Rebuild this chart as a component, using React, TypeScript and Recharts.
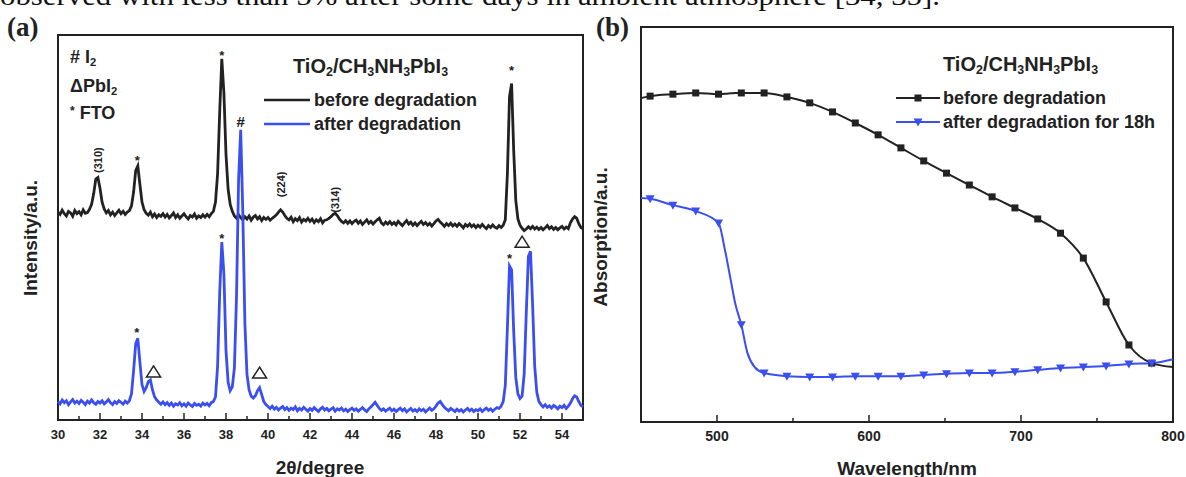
import React from 'react'
import { LineChart, Line, XAxis, YAxis, ReferenceArea, ReferenceDot } from 'recharts'

const SANS = '"Liberation Sans", Arial, sans-serif'
const SERIF = '"Liberation Serif", "Times New Roman", serif'
const INK = '#222'
const BLUE = '#3b4ef0'

// (a) XRD — 2θ from 30.0 to 55.0, one reading every 0.1°
const XRD_START = 30
const XRD_STEP = 0.1
const XRD_BEFORE = [
  540, 534, 545, 536, 530, 542, 538, 529, 544, 536,
  541, 533, 546, 537, 539, 547, 560, 588, 626, 630,
  602, 566, 548, 538, 544, 533, 540, 531, 538, 545,
  536, 542, 534, 540, 544, 556, 592, 648, 660, 612,
  566, 546, 537, 532, 540, 528, 535, 526, 533, 529,
  536, 527, 534, 525, 531, 538, 526, 533, 524, 530,
  536, 528, 522, 531, 527, 535, 524, 530, 526, 533,
  527, 534, 528, 536, 542, 566, 640, 800, 938, 850,
  690, 600, 560, 542, 530, 524, 533, 526, 520, 528,
  522, 530, 519, 527, 531, 522, 528, 518, 526, 521,
  526, 519, 524, 528, 533, 540, 546, 540, 531, 524,
  520, 527, 515, 523, 518, 526, 514, 521, 517, 524,
  516, 522, 513, 520, 515, 523, 512, 519, 520, 524,
  528, 534, 537, 531, 522, 516, 512, 518, 511, 517,
  510, 516, 519, 511, 517, 508, 514, 520, 511, 516,
  509, 515, 520, 524, 512, 507, 514, 509, 515, 508,
  513, 507, 516, 510, 505, 512, 518, 509, 514, 506,
  512, 505, 511, 516, 508, 513, 506, 511, 504, 510,
  517, 521, 514, 509, 503, 510, 505, 511, 504, 509,
  503, 510, 505, 499, 508, 503, 509, 502, 507, 500,
  506, 501, 508, 502, 497, 505, 500, 507, 501, 498,
  505, 500, 506, 520, 640, 840, 874, 700, 570, 522,
  506, 498, 492, 496, 502, 497, 503, 496, 501, 495,
  500, 494, 499, 505, 497, 502, 495, 500, 494, 499,
  503, 496, 501, 497, 512, 522, 528, 524, 510, 500,
  497,
]
const XRD_AFTER = [
  48, 42, 52, 45, 50, 40, 47, 53, 44, 49,
  43, 51, 46, 40, 49, 44, 52, 45, 41, 48,
  44, 50, 42, 47, 53, 45, 40, 48, 43, 50,
  46, 41, 49, 44, 50, 68, 128, 198, 212, 150,
  92, 74, 84, 100, 104, 78, 60, 52, 46, 41,
  47, 40, 45, 38, 44, 36, 42, 39, 45, 37,
  42, 36, 44, 39, 35, 43, 38, 41, 36, 44,
  39, 43, 37, 45, 48, 60, 140, 330, 462, 380,
  180, 98, 76, 86, 135, 320, 625, 754, 540, 250,
  118, 78, 62, 57, 63, 76, 84, 66, 48, 40,
  35, 30, 36, 28, 33, 26, 31, 35, 27, 32,
  25, 31, 27, 34, 24, 30, 26, 33, 28, 23,
  30, 25, 32, 27, 22, 29, 33, 26, 30, 24,
  28, 32, 23, 29, 26, 31, 24, 28, 22, 27,
  31, 25, 29, 23, 28, 32, 26, 22, 29, 34,
  40, 46, 38, 30, 25, 29, 23, 27, 31, 24,
  28, 22, 27, 31, 24, 29, 21, 26, 30, 23,
  27, 22, 29, 24, 28, 21, 26, 31, 25, 29,
  36, 44, 48, 40, 33, 28, 24, 30, 26, 22,
  28, 23, 27, 21, 26, 30, 24, 28, 22, 27,
  24, 29, 22, 27, 31, 25, 29, 23, 28, 32,
  30, 36, 48, 90, 240, 400, 390, 230, 110, 68,
  56, 62, 120, 280, 425, 438, 300, 140, 72, 48,
  40, 34, 40, 33, 37, 31, 38, 34, 29, 36,
  32, 38, 30, 36, 44, 55, 63, 60, 48, 38,
  34,
]
const XRD_TICKS = [30, 31, 32, 33, 34, 35, 36, 37, 38, 39, 40, 41, 42, 43, 44, 45, 46, 47, 48, 49, 50, 51, 52, 53, 54, 55]

// peak markers: [2θ, intensity, label]
const XRD_NOTES: [number, number, string][] = [
  [31.9, 675, '(310)'],
  [33.78, 683, '*'],
  [37.8, 956, '*'],
  [40.6, 612, '(224)'],
  [43.2, 572, '(314)'],
  [51.6, 917, '*'],
  [38.7, 774, '#'],
  [33.75, 236, '*'],
  [34.55, 125, '△'],
  [37.8, 480, '*'],
  [39.6, 122, '△'],
  [51.5, 428, '*'],
  [52.1, 462, '△'],
]

// (b) absorption
const ABS_NM = [450, 456, 471, 486, 501, 505, 509, 512, 516, 520, 525, 531, 546, 561, 576, 591, 606, 621, 636, 651, 666, 681, 696, 711, 726, 741, 756, 771, 786, 800]
const ABS_BEFORE = [0.82, 0.825, 0.83, 0.833, 0.83, 0.831, 0.832, 0.833, 0.833, 0.833, 0.833, 0.833, 0.823, 0.808, 0.785, 0.757, 0.727, 0.694, 0.661, 0.63, 0.6, 0.57, 0.542, 0.514, 0.478, 0.415, 0.304, 0.195, 0.149, 0.139]
const ABS_AFTER = [0.567, 0.565, 0.549, 0.534, 0.504, 0.44, 0.36, 0.3, 0.246, 0.175, 0.138, 0.124, 0.116, 0.114, 0.114, 0.116, 0.116, 0.116, 0.119, 0.122, 0.124, 0.124, 0.127, 0.132, 0.137, 0.139, 0.142, 0.147, 0.149, 0.159]
const ABS_MARKERS = [456, 471, 486, 501, 516, 531, 546, 561, 576, 591, 606, 621, 636, 651, 666, 681, 696, 711, 726, 741, 756, 771, 786]
const ABS_TICKS = [500, 550, 600, 650, 700, 750, 800]

const xrdData = XRD_BEFORE.map((v, i) => ({
  theta: Math.round((XRD_START + i * XRD_STEP) * 10) / 10,
  before: v,
  after: XRD_AFTER[i],
}))
const absData = ABS_NM.map((nm, i) => ({ nm, before: ABS_BEFORE[i], after: ABS_AFTER[i] }))

const Sub = ({ children }: any) => (
  <sub style={{ fontSize: '0.62em', verticalAlign: '-0.28em', lineHeight: 0 }}>{children}</sub>
)

function Txt({ x, y, size = 18, anchor = 'start', rotate = false, family = SANS, children }: any) {
  const transform = rotate
    ? 'translate(-50%,-50%) rotate(-90deg)'
    : `translate(${anchor === 'middle' ? '-50%' : '0'},-50%)`
  return (
    <div
      style={{
        position: 'absolute',
        left: x,
        top: y,
        transform,
        fontFamily: family,
        fontWeight: 'bold',
        fontSize: size,
        lineHeight: 1,
        whiteSpace: 'nowrap',
        color: INK,
      }}
    >
      {children}
    </div>
  )
}

const Formula = () => (
  <>
    TiO<Sub>2</Sub>/CH<Sub>3</Sub>NH<Sub>3</Sub>PbI<Sub>3</Sub>
  </>
)

function AxisTick({ x, y, payload, major, skip, size }: any) {
  const v = payload.value
  const isMajor = major(v)
  return (
    <g>
      {!skip(v) && (
        <line x1={x} x2={x} y1={y} y2={y - (isMajor ? 7 : 4)} stroke={INK} strokeWidth={1.5} />
      )}
      {isMajor && (
        <text x={x} y={y + 14} dy="0.35em" textAnchor="middle" fontFamily={SANS} fontWeight="bold" fontSize={size} fill={INK}>
          {v}
        </text>
      )}
    </g>
  )
}

function NoteMark({ cx, cy, label }: any) {
  if (label === '*')
    return (
      <text x={cx} y={cy + 8} textAnchor="middle" fontFamily={SANS} fontWeight="bold" fontSize={13} fill={INK}>
        *
      </text>
    )
  if (label === '#')
    return (
      <text x={cx} y={cy + 5} textAnchor="middle" fontFamily={SANS} fontWeight="bold" fontSize={15} fill={INK}>
        #
      </text>
    )
  if (label === '△')
    return (
      <polygon
        points={`${cx},${cy - 6} ${cx - 7},${cy + 5} ${cx + 7},${cy + 5}`}
        fill="none"
        stroke={INK}
        strokeWidth={1.5}
      />
    )
  return (
    <text
      x={cx}
      y={cy}
      transform={`rotate(-90 ${cx} ${cy})`}
      textAnchor="middle"
      dominantBaseline="central"
      fontFamily={SANS}
      fontWeight="bold"
      fontSize={11}
      fill={INK}
    >
      {label}
    </text>
  )
}

const squareDot = (p: any) =>
  ABS_MARKERS.includes(p.payload.nm) ? (
    <rect key={`s${p.index}`} x={p.cx - 3.5} y={p.cy - 3.5} width={7} height={7} fill={INK} />
  ) : (
    <g key={`s${p.index}`} />
  )

const triDot = (p: any) =>
  ABS_MARKERS.includes(p.payload.nm) ? (
    <polygon
      key={`t${p.index}`}
      points={`${p.cx - 4.5},${p.cy - 3.5} ${p.cx + 4.5},${p.cy - 3.5} ${p.cx},${p.cy + 4.5}`}
      fill={BLUE}
    />
  ) : (
    <g key={`t${p.index}`} />
  )

function XrdChart() {
  return (
    <LineChart width={600} height={477} data={xrdData} margin={{ top: 35, right: 17, bottom: 37, left: 58 }}>
      <XAxis
        dataKey="theta"
        type="number"
        domain={[30, 55]}
        ticks={XRD_TICKS}
        interval={0}
        height={20}
        axisLine={false}
        tickLine={false}
        tickSize={0}
        tickMargin={0}
        tick={(p: any) => (
          <AxisTick {...p} size={13} major={(v: number) => v % 2 === 0} skip={(v: number) => v === 30 || v === 55} />
        )}
      />
      <YAxis hide type="number" domain={[0, 1000]} allowDataOverflow />
      <Line type="linear" dataKey="before" stroke={INK} strokeWidth={2.8} dot={false} activeDot={false} isAnimationActive={false} />
      <Line type="linear" dataKey="after" stroke={BLUE} strokeWidth={2.8} dot={false} activeDot={false} isAnimationActive={false} />
      {XRD_NOTES.map(([t, v, label], i) => (
        <ReferenceDot
          key={i}
          x={t}
          y={v}
          r={0}
          ifOverflow="visible"
          shape={(p: any) => <NoteMark cx={p.cx} cy={p.cy} label={label} />}
        />
      ))}
      <ReferenceArea x1={30} x2={55} y1={0} y2={1000} fill="none" stroke={INK} strokeWidth={2} ifOverflow="visible" />
    </LineChart>
  )
}

function AbsChart() {
  return (
    <LineChart width={596} height={477} data={absData} margin={{ top: 27, right: 13, bottom: 35, left: 51 }}>
      <XAxis
        dataKey="nm"
        type="number"
        domain={[450, 800]}
        ticks={ABS_TICKS}
        interval={0}
        height={20}
        axisLine={false}
        tickLine={false}
        tickSize={0}
        tickMargin={0}
        tick={(p: any) => (
          <AxisTick {...p} size={14} major={(v: number) => v % 100 === 0} skip={(v: number) => v === 800} />
        )}
      />
      <YAxis hide type="number" domain={[0, 1]} allowDataOverflow />
      <Line type="monotone" dataKey="before" stroke={INK} strokeWidth={2} dot={squareDot} activeDot={false} isAnimationActive={false} />
      <Line type="monotone" dataKey="after" stroke={BLUE} strokeWidth={2} dot={triDot} activeDot={false} isAnimationActive={false} />
      <ReferenceArea x1={450} x2={800} y1={0} y2={1} fill="none" stroke={INK} strokeWidth={2} ifOverflow="visible" />
    </LineChart>
  )
}

export default function App() {
  return (
    <div style={{ position: 'fixed', left: 0, top: 0, width: 1186, height: 477, background: '#fff', overflow: 'hidden' }}>
      <svg width={1186} height={24} style={{ position: 'absolute', left: 0, top: 0 }}>
        <text x={0} y={5} fontFamily={SERIF} fontSize={27} fill="#111" textLength={940} lengthAdjust="spacingAndGlyphs">
          observed with less than 5% after some days in ambient atmosphere [34, 35].
        </text>
      </svg>

      <div style={{ position: 'absolute', left: 0, top: 0 }}>
        <XrdChart />
      </div>
      <div style={{ position: 'absolute', left: 590, top: 0 }}>
        <AbsChart />
      </div>

      {/* panel (a) texts */}
      <Txt x={7} y={27} size={27} family={SERIF}>(a)</Txt>
      <Txt x={70} y={57} size={18}>
        # I<Sub>2</Sub>
      </Txt>
      <Txt x={70} y={86} size={18}>
        ΔPbI<Sub>2</Sub>
      </Txt>
      <Txt x={70} y={113} size={18}>
        <span style={{ fontSize: 12, verticalAlign: '0.3em' }}>*</span> FTO
      </Txt>
      <Txt x={293} y={66} size={20}>
        <Formula />
      </Txt>
      <svg width={50} height={40} style={{ position: 'absolute', left: 262, top: 90 }}>
        <line x1={2} x2={48} y1={10} y2={10} stroke={INK} strokeWidth={2.5} />
        <line x1={2} x2={48} y1={34} y2={34} stroke={BLUE} strokeWidth={2.5} />
      </svg>
      <Txt x={314} y={100} size={18}>before degradation</Txt>
      <Txt x={314} y={124} size={18}>after degradation</Txt>
      <Txt x={30} y={238} size={19} rotate>Intensity/a.u.</Txt>
      <Txt x={320} y={467} size={19} anchor="middle">2θ/degree</Txt>

      {/* panel (b) texts */}
      <Txt x={596} y={27} size={27} family={SERIF}>(b)</Txt>
      <Txt x={943} y={64} size={20}>
        <Formula />
      </Txt>
      <svg width={50} height={40} style={{ position: 'absolute', left: 894, top: 88 }}>
        <line x1={2} x2={46} y1={10} y2={10} stroke={INK} strokeWidth={2} />
        <rect x={20.5} y={6.5} width={7} height={7} fill={INK} />
        <line x1={2} x2={46} y1={34} y2={34} stroke={BLUE} strokeWidth={2} />
        <polygon points="19.5,30.5 28.5,30.5 24,38.5" fill={BLUE} />
      </svg>
      <Txt x={943} y={98} size={18}>before degradation</Txt>
      <Txt x={943} y={122} size={18}>after degradation for 18h</Txt>
      <Txt x={600} y={237} size={19} rotate>Absorption/a.u.</Txt>
      <Txt x={907} y={468} size={19} anchor="middle">Wavelength/nm</Txt>
    </div>
  )
}
